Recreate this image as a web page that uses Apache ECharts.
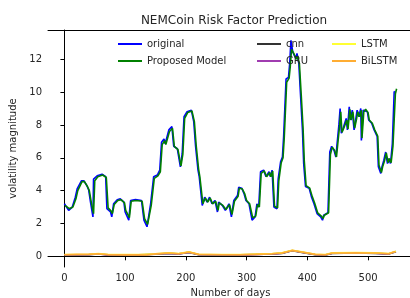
<!DOCTYPE html>
<html lang="en">
<head>
    <meta charset="UTF-8">
    <title>NEMCoin Risk Factor Prediction</title>
    <style type="text/css">
        html, body {
            margin: 0;
            padding: 0;
            background: #ffffff;
        }

        #risk-chart {
            width: 410px;
            height: 298px;
        }
    </style>
</head>
<body>
<div id="risk-chart"></div>
<script src="https://cdn.jsdelivr.net/npm/echarts@6/dist/echarts.min.js" type="text/javascript"></script>
<script type="text/javascript">
    // [day, value] pairs
    const original = [[0, 3.2], [7, 2.8], [13, 3.0], [18, 3.6], [21, 4.1], [24, 4.0], [28, 4.6], [32, 4.6], [37, 4.3], [40, 4.05],
        [43, 3.3], [47, 2.4], [48, 4.7], [54, 4.9], [62, 5.0], [68, 4.85], [70, 2.9], [76, 2.7], [78, 2.4], [81, 3.2],
        [87, 3.45], [92, 3.5], [98, 3.3], [100, 2.7], [106, 2.2], [109, 3.4], [117, 3.45], [127, 3.4], [131, 2.2], [136, 1.8],
        [142, 3.2], [147, 4.85], [153, 4.95], [157, 5.25], [160, 6.95], [164, 7.15], [166, 6.85], [172, 7.7], [177, 7.9], [180, 6.7],
        [186, 6.55], [191, 5.45], [194, 6.25], [197, 8.5], [202, 8.8], [209, 8.9], [213, 8.2], [216, 6.7], [220, 5.25], [222, 4.85],
        [227, 3.1], [231, 3.6], [235, 3.3], [239, 3.6], [243, 3.2], [248, 3.4], [252, 2.7], [254, 3.3], [260, 3.1], [265, 2.8],
        [271, 3.2], [275, 2.4], [279, 3.4], [285, 3.7], [287, 4.2], [292, 4.15], [296, 3.8], [299, 3.4], [304, 3.2], [309, 2.2],
        [314, 2.4], [317, 3.2], [320, 3.0], [323, 5.15], [328, 5.25], [332, 4.85], [337, 5.15], [339, 4.85], [342, 5.25], [345, 3.0],
        [350, 2.9], [352, 4.7], [356, 5.75], [359, 6.05], [361, 7.3], [365, 10.8], [369, 10.9], [371, 11.75], [373, 13.15], [376, 12.45],
        [381, 12.05], [383, 12.35], [386, 11.75], [389, 9.7], [392, 7.7], [394, 5.65], [397, 4.25], [403, 4.15], [407, 3.6], [411, 3.2],
        [416, 2.6], [422, 2.4], [425, 2.2], [427, 2.5], [434, 2.65], [437, 6.35], [440, 6.7], [444, 6.45], [447, 6.05], [449, 6.85],
        [452, 8.0], [454, 9.0], [456, 7.5], [459, 7.8], [462, 7.7], [464, 8.4], [466, 7.7], [469, 9.1], [471, 8.3], [474, 8.9],
        [477, 7.7], [480, 8.4], [482, 8.9], [485, 8.5], [488, 9.0], [489, 7.05], [492, 8.9], [495, 9.0], [499, 8.8], [501, 8.3],
        [506, 8.1], [510, 7.7], [512, 7.8], [515, 7.3], [517, 5.45], [521, 5.05], [523, 5.45], [526, 5.85], [529, 6.35], [532, 5.65],
        [534, 5.95], [537, 5.65], [540, 6.85], [543, 10.0], [544, 10.05]];

    const proposed = [[1, 3.1], [8, 2.9], [14, 3.0], [19, 3.5], [22, 4.0], [25, 4.0], [29, 4.55], [33, 4.55], [38, 4.25], [41, 4.0],
        [44, 3.35], [48, 2.6], [50, 4.6], [55, 4.85], [63, 4.95], [69, 4.8], [72, 2.95], [77, 2.75], [79, 2.6], [82, 3.15],
        [88, 3.4], [93, 3.45], [99, 3.25], [101, 2.8], [107, 2.35], [110, 3.35], [118, 3.4], [128, 3.35], [132, 2.3], [137, 1.95],
        [143, 3.1], [148, 4.75], [154, 4.9], [158, 5.15], [161, 6.8], [165, 7.05], [167, 6.8], [173, 7.6], [178, 7.8], [181, 6.7],
        [187, 6.5], [192, 5.5], [195, 6.2], [198, 8.4], [203, 8.75], [210, 8.85], [214, 8.2], [217, 6.75], [221, 5.3], [223, 4.85],
        [228, 3.2], [232, 3.55], [236, 3.3], [240, 3.55], [244, 3.2], [249, 3.35], [253, 2.8], [255, 3.25], [261, 3.1], [266, 2.85],
        [272, 3.15], [276, 2.55], [280, 3.35], [286, 3.65], [288, 4.15], [293, 4.1], [297, 3.8], [300, 3.4], [305, 3.2], [310, 2.35],
        [315, 2.45], [318, 3.15], [321, 3.0], [324, 5.05], [329, 5.2], [333, 4.85], [338, 5.1], [340, 4.85], [343, 5.2], [346, 3.05],
        [351, 2.95], [353, 4.6], [357, 5.7], [360, 6.0], [362, 7.2], [366, 10.6], [370, 10.85], [372, 11.6], [374, 12.6], [377, 12.4],
        [382, 12.0], [384, 12.2], [387, 11.7], [390, 9.8], [393, 7.8], [395, 5.8], [398, 4.3], [404, 4.15], [408, 3.65], [412, 3.25],
        [417, 2.65], [423, 2.45], [426, 2.3], [428, 2.5], [435, 2.65], [438, 6.2], [441, 6.65], [445, 6.45], [448, 6.05], [450, 6.8],
        [453, 7.9], [455, 8.8], [457, 7.55], [460, 7.8], [463, 7.7], [465, 8.3], [467, 7.75], [470, 8.95], [472, 8.3], [475, 8.8],
        [478, 7.8], [481, 8.35], [483, 8.8], [486, 8.5], [489, 8.9], [490, 7.2], [493, 8.8], [496, 8.95], [500, 8.75], [502, 8.3],
        [507, 8.1], [511, 7.7], [513, 7.75], [516, 7.3], [518, 5.55], [522, 5.1], [524, 5.45], [527, 5.8], [530, 6.3], [533, 5.7],
        [535, 5.95], [538, 5.7], [541, 6.7], [545, 9.9], [547, 10.2]];

    const cnn = [[0, 0.08], [40, 0.1], [56, 0.14], [73, 0.08], [122, 0.08], [150, 0.13], [172, 0.18], [188, 0.14], [205, 0.24],
        [221, 0.1], [290, 0.08], [342, 0.14], [358, 0.18], [375, 0.34], [391, 0.24], [413, 0.1], [430, 0.08], [441, 0.18],
        [480, 0.2], [512, 0.18], [534, 0.14], [546, 0.28]];
    const gru = [[0, 0.09], [40, 0.11], [56, 0.15], [73, 0.09], [122, 0.09], [150, 0.14], [172, 0.19], [188, 0.15], [205, 0.25],
        [221, 0.11], [290, 0.09], [342, 0.15], [358, 0.19], [375, 0.35], [391, 0.25], [413, 0.11], [430, 0.09], [441, 0.19],
        [480, 0.21], [512, 0.19], [534, 0.15], [546, 0.29]];
    const lstm = [[0, 0.11], [40, 0.13], [56, 0.17], [73, 0.11], [122, 0.11], [150, 0.16], [172, 0.21], [188, 0.17], [205, 0.27],
        [221, 0.13], [290, 0.11], [342, 0.17], [358, 0.21], [375, 0.37], [391, 0.27], [413, 0.13], [430, 0.11], [441, 0.21],
        [480, 0.23], [512, 0.21], [534, 0.17], [546, 0.31]];
    const bilstm = [[0, 0.1], [20, 0.12], [40, 0.12], [56, 0.16], [73, 0.1], [100, 0.09], [122, 0.1], [135, 0.08], [150, 0.15],
        [172, 0.2], [188, 0.16], [205, 0.26], [221, 0.12], [260, 0.1], [290, 0.1], [315, 0.12], [342, 0.16], [358, 0.2],
        [375, 0.36], [391, 0.26], [413, 0.12], [430, 0.1], [441, 0.2], [460, 0.2], [480, 0.22], [497, 0.2], [512, 0.2],
        [534, 0.16], [545, 0.3]];

    const xTicks = [0, 100, 200, 300, 400, 500];
    const yTicks = [0, 2, 4, 6, 8, 10, 12];

    const seriesNames = ["original", "Proposed Model", "cnn", "GRU", "LSTM", "BiLSTM"];
    const seriesColors = ["#0000ff", "#008000", "#333333", "#a03cb0", "#ffff33", "#ffad33"];
    const seriesData = [original, proposed, cnn, gru, lstm, bilstm];

    const fontFamily = "DejaVu Sans";
    const textColor = "#262626";

    function lineSeries(i) {
        return {
            name: seriesNames[i],
            type: "line",
            data: seriesData[i],
            showSymbol: false,
            symbol: "none",
            animation: false,
            lineStyle: {color: seriesColors[i], width: 1.6},
            itemStyle: {color: seriesColors[i]},
            z: 2 + i
        };
    }

    function legendColumn(names, left) {
        return {
            data: names,
            orient: "vertical",
            left: left,
            top: 37,
            padding: 0,
            itemGap: 3,
            itemWidth: 24,
            itemHeight: 2,
            icon: "rect",
            textStyle: {fontFamily: fontFamily, fontSize: 10, color: textColor, lineHeight: 14}
        };
    }

    const chart = echarts.init(document.getElementById("risk-chart"), null, {renderer: "canvas"});
    chart.setOption({
        animation: false,
        backgroundColor: "#ffffff",
        title: {
            text: "NEMCoin Risk Factor Prediction",
            left: 229,
            textAlign: "center",
            top: 10,
            textStyle: {fontFamily: fontFamily, fontSize: 12, fontWeight: "normal", color: textColor}
        },
        legend: [
            legendColumn(["original", "Proposed Model"], 118),
            legendColumn(["cnn", "GRU"], 257),
            legendColumn(["LSTM", "BiLSTM"], 332)
        ],
        grid: {left: 48, right: -3, top: 30, bottom: 31, containLabel: false, outerBoundsMode: "none"},
        xAxis: [{
            type: "value",
            min: -27,
            max: 574,
            splitLine: {show: false},
            axisLine: {show: true, lineStyle: {color: "#000000", width: 1}},
            axisTick: {show: true, inside: false, length: 4, customValues: xTicks, lineStyle: {color: "#000000"}},
            axisLabel: {customValues: xTicks, fontFamily: fontFamily, fontSize: 10, color: textColor, margin: 6},
            name: "Number of days",
            nameLocation: "middle",
            nameGap: 21,
            nameTextStyle: {fontFamily: fontFamily, fontSize: 10, color: textColor}
        }, {
            type: "value",
            position: "top",
            min: -27,
            max: 574,
            splitLine: {show: false},
            axisLine: {show: true, lineStyle: {color: "#000000", width: 1}},
            axisTick: {show: false},
            axisLabel: {show: false}
        }],
        yAxis: {
            type: "value",
            min: -0.65,
            max: 13.78,
            splitLine: {show: false},
            axisLine: {show: true, lineStyle: {color: "#000000", width: 1}},
            axisTick: {show: true, inside: false, length: 4, customValues: yTicks, lineStyle: {color: "#000000"}},
            axisLabel: {customValues: yTicks, fontFamily: fontFamily, fontSize: 10, color: textColor, margin: 6},
            name: "volatility magnitude",
            nameLocation: "middle",
            nameGap: 30,
            nameRotate: 90,
            nameTextStyle: {fontFamily: fontFamily, fontSize: 10, color: textColor}
        },
        series: seriesNames.map((n, i) => lineSeries(i))
    });
</script>
</body>
</html>
